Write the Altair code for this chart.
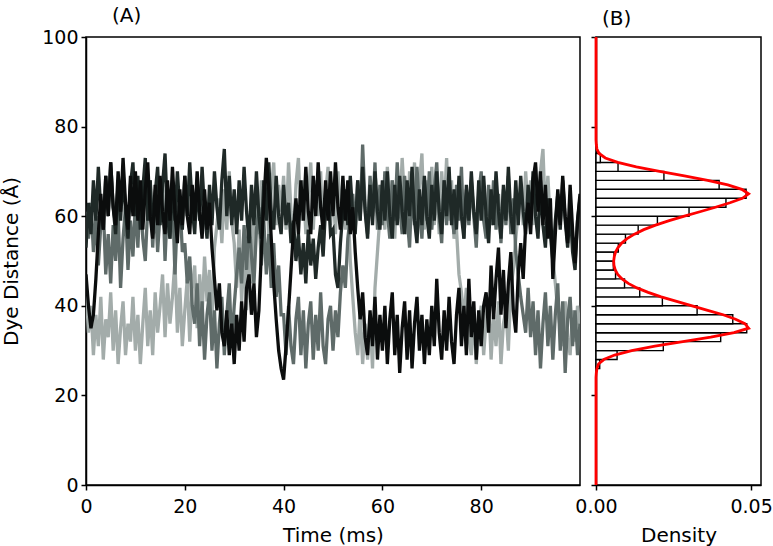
import altair as alt
import pandas as pd

# ---------------- data ----------------
time_ms = [round(0.5 * i, 1) for i in range(201)]

trace_light = [
    44, 34, 40, 29, 38, 31, 42, 28, 37, 33, 43, 30, 39, 27, 35, 41, 29, 36, 32, 42,
    30, 38, 27, 36, 44, 31, 39, 29, 43, 34, 40, 47, 33, 45, 36, 42, 50, 34, 44, 31,
    39, 46, 32, 44, 49, 35, 47, 38, 51, 41, 48, 36, 53, 58, 64, 54, 66, 57, 70, 59,
    54, 44, 57, 41, 52, 39, 55, 45, 60, 64, 56, 68, 59, 71, 55, 66, 72, 58, 67, 61,
    69, 57, 72, 61, 55, 67, 73, 59, 68, 56, 65, 72, 57, 68, 60, 70, 54, 65, 71, 58,
    67, 56, 70, 60, 68, 57, 64, 50, 42, 34, 29, 39, 27, 36, 28, 38, 26, 44, 52, 60,
    66, 57, 71, 62, 68, 55, 69, 60, 73, 63, 56, 70, 61, 72, 58, 67, 74, 57, 68, 60,
    71, 58, 67, 56, 70, 61, 73, 59, 68, 55, 57, 47, 43, 37, 44, 33, 29, 38, 27, 35,
    40, 29, 37, 42, 28, 38, 31, 41, 27, 36, 39, 30, 44, 48, 55, 61, 67, 58, 70, 61,
    68, 58, 71, 62, 70, 75, 60, 69, 58, 51, 45, 39, 35, 31, 41, 33, 29, 39, 32, 40, 35,
]
trace_mid = [
    61, 55, 63, 52, 60, 49, 58, 62, 47, 56, 45, 58, 50, 61, 44, 55, 62, 48, 59, 51,
    63, 53, 66, 55, 50, 62, 68, 53, 64, 52, 61, 67, 50, 63, 55, 66, 47, 60, 64, 52,
    54, 45, 51, 40, 36, 45, 31, 41, 28, 38, 43, 30, 39, 26, 36, 42, 29, 38, 45, 31,
    40, 47, 53, 45, 58, 48, 60, 51, 45, 57, 62, 49, 59, 47, 56, 44, 54, 42, 49, 38,
    38, 29, 40, 31, 27, 37, 42, 29, 39, 26, 36, 41, 28, 38, 30, 43, 31, 27, 37, 40,
    30, 39, 33, 43, 49, 44, 55, 60, 65, 57, 68, 59, 76, 62, 56, 69, 60, 72, 57, 67,
    58, 70, 61, 55, 68, 59, 72, 62, 56, 69, 60, 53, 67, 58, 71, 61, 55, 68, 59, 70,
    57, 66, 72, 60, 54, 68, 58, 69, 61, 56, 67, 59, 71, 55, 66, 58, 68, 60, 53, 65,
    70, 59, 55, 67, 58, 68, 57, 65, 54, 66, 58, 69, 56, 64, 52, 47, 42, 38, 34, 44,
    33, 41, 29, 39, 26, 36, 43, 31, 40, 28, 38, 45, 30, 41, 25, 37, 42, 31, 39, 29, 36,
]
trace_dark = [
    53, 63, 56, 68, 59, 71, 61, 57, 69, 60, 72, 62, 56, 68, 59, 70, 61, 55, 67, 72,
    60, 69, 57, 66, 73, 59, 68, 56, 65, 71, 58, 67, 74, 60, 55, 68, 59, 70, 61, 57,
    69, 60, 72, 62, 56, 68, 59, 71, 61, 55, 67, 58, 70, 62, 57, 68, 75, 60, 69, 58,
    66, 56, 68, 59, 71, 61, 54, 67, 58, 70, 60, 55, 68, 59, 72, 61, 57, 69, 60, 56,
    67, 58, 63, 54, 59, 50, 56, 47, 54, 45, 57, 49, 55, 46, 53, 58, 51, 62, 66, 56,
    57, 47, 44, 54, 61, 66, 58, 69, 60, 56, 68, 59, 71, 61, 55, 67, 58, 70, 61, 57,
    68, 59, 70, 60, 55, 67, 58, 69, 61, 56, 68, 60, 71, 59, 54, 66, 58, 69, 60, 55,
    67, 59, 70, 61, 56, 68, 60, 71, 58, 66, 57, 69, 60, 55, 67, 59, 70, 61, 56, 68,
    59, 69, 60, 54, 66, 58, 70, 61, 55, 67, 59, 71, 60, 56, 68, 58, 69, 61, 56, 67,
    59, 70, 60, 55, 68, 58, 53, 64, 56, 50, 59, 65, 57, 68, 59, 53, 62, 52, 48, 59, 64,
]
trace_black = [
    47, 40, 35, 38, 46, 56, 65, 57, 69, 60, 72, 62, 58, 70, 61, 73, 63, 57, 69, 60,
    70, 59, 68, 57, 66, 72, 60, 55, 67, 58, 69, 61, 56, 68, 59, 71, 61, 54, 66, 58,
    69, 60, 56, 67, 59, 70, 61, 55, 66, 57, 63, 53, 46, 39, 45, 34, 31, 39, 29, 36,
    27, 38, 30, 41, 32, 44, 47, 38, 45, 33, 39, 52, 63, 73, 66, 55, 45, 37, 30, 26,
    23.5, 31, 39, 48, 57, 64, 56, 68, 59, 71, 61, 56, 69, 60, 72, 62, 57, 68, 59, 70,
    60, 72, 62, 57, 69, 59, 68, 56, 62, 52, 44, 37, 43, 33, 29, 39, 31, 42, 28, 38,
    30, 40, 27, 37, 43, 29, 38, 25, 35, 41, 28, 39, 26, 36, 42, 30, 38, 27, 37, 29,
    40, 31, 46, 34, 28, 39, 30, 42, 32, 27, 38, 44, 31, 40, 29, 46, 33, 41, 28, 39,
    31, 40, 43, 34, 49, 37, 46, 53, 38, 48, 35, 45, 52, 39, 34, 47, 54, 46, 58, 63,
    56, 68, 72, 61, 70, 58, 67, 55, 64, 46, 56, 66, 58, 69, 60, 54, 67, 57, 49.5, 59, 65,
]
trace_colors = ["#a3acaa", "#5f6b69", "#1f2927", "#0b0d0d"]

# histogram (bin lower edge in Å, bin width 2 Å) and density
bin_lo = [26, 28, 30, 32, 34, 36, 38, 40, 42, 44, 46, 48,
          50, 52, 54, 56, 58, 60, 62, 64, 66, 68, 70, 72]
bin_density = [0.0012, 0.0068, 0.0217, 0.0402, 0.0486, 0.0441, 0.0326, 0.0214,
               0.0141, 0.0092, 0.0063, 0.0056, 0.0058, 0.0072, 0.0095, 0.0136,
               0.0198, 0.0300, 0.0419, 0.0484, 0.0397, 0.0219, 0.0071, 0.0014]
BIN_W = 2

# fitted curve
fit_y = [0, 20, 24, 25, 26, 27, 28, 29, 30, 31, 32, 33, 34, 35, 36, 37, 38, 39, 40,
         41, 42, 43, 44, 45, 46, 47, 48, 49, 50, 51, 52, 53, 54, 55, 56, 57, 58, 59,
         60, 61, 62, 63, 64, 65, 66, 67, 68, 69, 70, 71, 72, 73, 74, 75, 76, 77, 80, 100]
fit_density = [0.0, 0.0, 0.0, 0.0001, 0.0003, 0.0008, 0.0025, 0.0060, 0.0115, 0.0190,
               0.0280, 0.0370, 0.0445, 0.0492, 0.0480, 0.0450, 0.0410, 0.0360, 0.0310,
               0.0260, 0.0210, 0.0168, 0.0132, 0.0104, 0.0084, 0.0070, 0.0062, 0.0058,
               0.0057, 0.0059, 0.0063, 0.0071, 0.0083, 0.0100, 0.0124, 0.0154, 0.0192,
               0.0236, 0.0285, 0.0335, 0.0385, 0.0432, 0.0472, 0.0492, 0.0470, 0.0425,
               0.0360, 0.0285, 0.0205, 0.0130, 0.0070, 0.0030, 0.0010, 0.0003, 0.0001,
               0.0, 0.0, 0.0]

# ---------------- chart ----------------
FONT = "DejaVu Sans"
LFS = 19      # tick label size
TFS = 20      # title size

y_scale = alt.Scale(domain=[0, 100], nice=False, zero=False)

xA = alt.X("t:Q", scale=alt.Scale(domain=[0, 100], nice=False),
           axis=alt.Axis(values=[0, 20, 40, 60, 80], title="Time (ms)"))
yA = alt.Y("d:Q", scale=y_scale,
           axis=alt.Axis(values=[0, 20, 40, 60, 80, 100], title="Dye Distance (Å)"))

layers = []
for vals, col in zip([trace_light, trace_mid, trace_dark, trace_black], trace_colors):
    df = pd.DataFrame({"t": time_ms[:len(vals)], "d": vals})
    layers.append(
        alt.Chart(df).mark_line(color=col, strokeWidth=3.3, clip=True).encode(x=xA, y=yA)
    )

panelA = alt.layer(*layers).properties(
    width=494, height=448,
    title=alt.TitleParams("(A)", anchor="start", frame="group", dx=26, offset=2),
)

hist_df = pd.DataFrame({
    "lo": bin_lo,
    "hi": [b + BIN_W for b in bin_lo],
    "density": bin_density,
})
fit_df = pd.DataFrame({"value": fit_y, "density": fit_density})

x_scale_B = alt.Scale(domain=[0, 0.0532], nice=False, zero=True)

bars = alt.Chart(hist_df).transform_calculate(zero="0").mark_rect(
    fill="white", stroke="black", strokeWidth=1.4
).encode(
    x=alt.X("zero:Q", scale=x_scale_B,
            axis=alt.Axis(values=[0, 0.05], format=".2f", title="Density")),
    x2="density:Q",
    y=alt.Y("lo:Q", scale=y_scale,
            axis=alt.Axis(values=[0, 20, 40, 60, 80, 100], labels=False, title=None)),
    y2="hi:Q",
)
fit = alt.Chart(fit_df).mark_line(color="#ff0000", strokeWidth=2.8).encode(
    x=alt.X("density:Q", scale=x_scale_B),
    y=alt.Y("value:Q", scale=y_scale),
    order="value:Q",
)

panelB = alt.layer(bars, fit).properties(
    width=165, height=448,
    title=alt.TitleParams("(B)", anchor="start", frame="group", dx=6, offset=2),
)

chart = alt.hconcat(panelA, panelB, spacing=16, bounds="flush").properties(
    padding={"left": 0, "top": 5, "right": 0, "bottom": 0}
).configure_view(
    stroke="black", strokeWidth=1.5
).configure_axis(
    labelFont=FONT, labelFontSize=LFS, titleFont=FONT, titleFontSize=TFS,
    titleFontWeight="normal", labelColor="black", titleColor="black",
    domainColor="black", tickColor="black", domainWidth=1.5, tickWidth=1.5,
    tickSize=5, grid=False, labelFlush=False, labelOverlap=False,
).configure_axisY(
    titlePadding=20, labelPadding=3
).configure_axisX(
    titlePadding=9, labelPadding=7
).configure_title(
    font=FONT, fontSize=TFS, fontWeight="normal", color="black"
)

chart.save("out.html", embed_options={"renderer": "svg", "actions": False})
